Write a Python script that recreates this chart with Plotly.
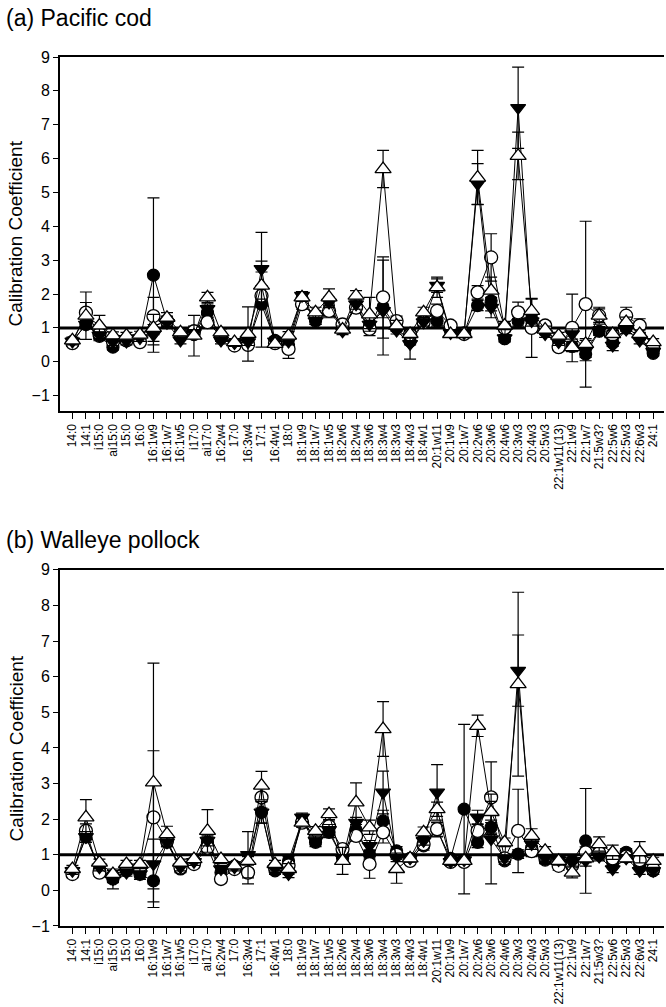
import plotly.graph_objects as go

categories = ["14:0","14:1","i15:0","ai15:0","15:0","16:0","16:1w9","16:1w7","16:1w5","i17:0",
              "ai17:0","16:2w4","17:0","16:3w4","17:1","16:4w1","18:0","18:1w9","18:1w7","18:1w5",
              "18:2w6","18:2w4","18:3w6","18:3w4","18:3w3","18:4w3","18:4w1","20:1w11","20:1w9","20:1w7",
              "20:2w6","20:3w6","20:4w6","20:3w3","20:4w3","20:5w3","22:1w11(13)","22:1w9","22:1w7","21:5w3?",
              "22:5w6","22:5w3","22:6w3","24:1"]

# Panel (a) Pacific cod
cod_filled_circle = [0.6,1.1,0.75,0.43,0.65,0.65,2.56,1.2,0.75,0.8,
                     1.46,0.7,0.5,0.55,1.7,0.63,0.5,1.85,1.2,1.5,
                     1.0,1.6,1.05,1.6,1.0,0.6,1.2,1.2,0.9,0.85,
                     1.66,1.8,0.68,1.2,1.25,0.9,0.6,0.45,0.23,0.9,
                     0.55,1.0,0.75,0.25]
cod_open_circle = [0.55,1.45,0.82,0.6,0.63,0.58,1.35,1.2,0.82,0.9,
                   1.17,0.75,0.48,0.5,1.95,0.55,0.38,1.7,1.35,1.5,
                   1.1,1.6,0.97,1.9,1.2,0.8,1.17,1.5,1.07,0.82,
                   2.05,3.08,1.0,1.46,1.0,1.07,0.43,1.0,1.7,1.36,
                   0.8,1.36,1.07,0.4]
cod_filled_tri = [0.6,1.1,0.78,0.58,0.6,0.7,0.8,1.15,0.63,0.85,
                  1.56,0.63,0.55,0.58,2.74,0.6,0.6,1.95,1.2,1.75,
                  0.9,1.7,1.1,1.5,0.92,0.53,1.17,2.25,0.85,0.85,
                  5.25,1.6,0.7,7.5,1.2,0.82,0.58,0.82,0.33,0.92,
                  0.48,0.95,0.63,0.3]
cod_open_tri = [0.63,1.36,1.07,0.78,0.77,0.8,1.0,1.3,0.87,0.77,
                1.9,0.87,0.58,0.82,2.25,0.53,0.77,1.9,1.46,1.9,
                0.95,1.95,1.4,5.69,1.07,0.82,1.46,2.2,0.82,0.82,
                5.44,2.1,1.07,6.08,1.5,0.95,0.77,0.43,0.53,1.36,
                0.82,1.17,0.82,0.58]

cod_err_filled_circle = [0.1,0.12,0.1,0.08,0.1,0.1,2.28,0.12,0.1,0.1,
                         0.15,0.1,0.08,0.1,1.27,0.1,0.1,0.12,0.1,0.15,
                         0.1,0.15,0.12,1.4,0.1,0.1,0.12,0.15,0.1,0.1,
                         0.15,0.3,0.1,0.15,0.12,0.1,0.1,0.15,0.1,0.12,
                         0.1,0.1,0.1,0.08]
cod_err_open_circle = [0.1,0.3,0.2,0.1,0.1,0.1,0.55,0.15,0.1,0.15,
                       0.15,0.1,0.1,0.1,0.3,0.1,0.28,0.15,0.15,0.2,
                       0.1,0.15,0.2,1.2,0.15,0.12,0.15,0.2,0.1,0.1,
                       0.2,0.7,0.12,0.3,0.87,0.12,0.1,1.0,2.45,0.25,
                       0.12,0.25,0.2,0.1]
cod_err_filled_tri = [0.1,0.12,0.1,0.1,0.1,0.1,0.3,0.12,0.1,0.1,
                      0.15,0.1,0.1,0.1,1.08,0.1,0.1,0.12,0.1,0.15,
                      0.1,0.15,0.12,0.2,0.1,0.45,0.12,0.2,0.1,0.1,
                      0.6,0.3,0.1,1.2,0.15,0.1,0.1,0.15,0.3,0.12,
                      0.15,0.12,0.1,0.1]
cod_err_open_tri = [0.1,0.7,0.3,0.1,0.1,0.1,0.4,0.15,0.1,0.6,
                    0.15,0.1,0.1,0.8,0.4,0.1,0.12,0.12,0.15,0.25,
                    0.1,0.15,0.5,0.55,0.15,0.12,0.15,0.3,0.1,0.1,
                    0.8,0.4,0.12,0.7,0.35,0.1,0.1,0.12,0.15,0.2,
                    0.1,0.15,0.12,0.1]

# Panel (b) Walleye pollock
pol_filled_circle = [0.5,1.5,0.6,0.32,0.55,0.45,0.27,1.35,0.6,0.75,
                     1.35,0.5,0.69,0.5,2.19,0.55,0.83,1.95,1.35,1.63,
                     0.9,1.7,1.0,1.95,1.11,0.9,1.25,1.7,0.9,2.28,
                     1.35,1.77,0.83,1.02,1.2,0.85,0.8,0.83,1.39,1.0,
                     0.8,1.07,0.7,0.55]
pol_open_circle = [0.46,1.67,0.5,0.4,0.6,0.6,2.05,1.4,0.64,0.74,
                   1.2,0.32,0.6,0.5,2.61,0.64,0.7,1.9,1.5,1.8,
                   1.16,1.53,0.74,1.63,1.0,0.83,1.3,1.72,0.8,0.8,
                   1.67,2.61,0.9,1.67,1.1,0.95,0.69,0.7,1.07,1.05,
                   0.9,0.95,0.85,0.6]
pol_filled_tri = [0.55,1.5,0.65,0.32,0.5,0.46,0.74,1.35,0.65,0.8,
                  1.4,0.6,0.65,1.0,2.19,0.6,0.46,2.05,1.4,1.7,
                  0.9,1.9,1.25,2.75,0.93,0.9,1.39,2.75,0.8,0.85,
                  2.05,1.44,0.9,6.17,1.3,0.9,0.85,0.78,0.83,0.95,
                  0.6,0.9,0.55,0.55]
pol_open_tri = [0.6,2.05,0.78,0.46,0.74,0.74,3.03,1.58,0.78,0.88,
                1.67,0.88,0.7,0.83,2.94,0.74,0.6,1.9,1.67,2.14,
                0.83,2.47,1.77,4.53,0.6,0.9,1.63,2.28,0.83,0.83,
                4.62,2.2,1.35,5.79,1.53,1.11,0.83,0.5,0.9,1.3,
                1.07,0.9,1.07,0.83]

pol_err_filled_circle = [0.1,0.15,0.1,0.28,0.1,0.1,0.75,0.12,0.1,0.1,
                         0.15,0.1,0.1,0.1,0.3,0.1,0.12,0.12,0.12,0.15,
                         0.1,0.15,0.12,0.3,0.12,0.1,0.12,0.2,0.1,2.38,
                         0.15,0.2,0.1,0.12,0.12,0.1,0.1,0.1,1.47,0.12,
                         0.1,0.1,0.1,0.1]
pol_err_open_circle = [0.1,0.2,0.1,0.1,0.1,0.1,1.87,0.12,0.1,0.1,
                       0.2,0.1,0.1,0.32,0.3,0.1,0.1,0.12,0.12,0.15,
                       0.1,0.15,0.4,0.3,0.12,0.1,0.12,0.2,0.1,0.1,
                       0.2,1.0,0.1,1.17,0.15,0.1,0.12,0.1,0.15,0.12,
                       0.1,0.1,0.2,0.1]
pol_err_filled_tri = [0.1,0.15,0.1,0.1,0.1,0.15,0.7,0.12,0.1,0.1,
                      0.15,0.1,0.1,0.65,0.3,0.1,0.1,0.12,0.12,0.15,
                      0.1,0.15,0.15,0.6,0.12,0.1,0.12,0.78,0.1,0.1,
                      0.2,1.26,0.1,1.0,0.15,0.1,0.1,0.1,0.15,0.12,
                      0.1,0.1,0.1,0.1]
pol_err_open_tri = [0.1,0.5,0.1,0.1,0.1,0.1,3.35,0.22,0.1,0.1,
                    0.6,0.12,0.1,0.12,0.4,0.1,0.15,0.12,0.12,0.15,
                    0.38,0.55,0.2,0.77,0.4,0.1,0.15,0.2,0.1,0.1,
                    0.3,0.3,0.12,2.58,0.2,0.12,0.12,0.15,0.12,0.2,
                    0.2,0.1,0.3,0.1]

FONT = "Arial, Liberation Sans, sans-serif"

styles = [
    ("filled circle", dict(symbol="circle", size=12, color="black", line=dict(color="black", width=1.2))),
    ("open circle", dict(symbol="circle", size=13, color="white", line=dict(color="black", width=1.3))),
    ("filled triangle", dict(symbol="triangle-down", size=13, color="black", line=dict(color="black", width=1.2))),
    ("open triangle", dict(symbol="triangle-up", size=14, color="white", line=dict(color="black", width=1.3))),
]

fig = go.Figure()

panels = [
    ("x", "y", [cod_filled_circle, cod_open_circle, cod_filled_tri, cod_open_tri],
     [cod_err_filled_circle, cod_err_open_circle, cod_err_filled_tri, cod_err_open_tri]),
    ("x2", "y2", [pol_filled_circle, pol_open_circle, pol_filled_tri, pol_open_tri],
     [pol_err_filled_circle, pol_err_open_circle, pol_err_filled_tri, pol_err_open_tri]),
]

for xa, ya, series, errs in panels:
    for (name, mk), vals, er in zip(styles, series, errs):
        fig.add_trace(go.Scatter(
            x=categories, y=vals, xaxis=xa, yaxis=ya, name=name,
            mode="lines+markers",
            line=dict(color="black", width=1),
            marker=mk,
            error_y=dict(type="data", array=er, visible=True, color="black", thickness=1.2, width=6),
            showlegend=False, cliponaxis=False,
        ))

# layout geometry
W, H = 666, 1007
ml, mt, mb = 60, 57, 79
ph = H - mt - mb
a_bot = (928 - 412) / ph
b_top = (928 - 571) / ph

xcommon = dict(type="category", range=[-0.92, 43.8], showline=True, linecolor="black", linewidth=2,
               mirror=True, ticks="outside", ticklen=6, tickwidth=1.2, tickcolor="black",
               tickmode="array", tickvals=categories, ticktext=categories,
               tickangle=-90, tickfont=dict(family=FONT, size=12, color="black"),
               showgrid=False, zeroline=False)
ycommon = dict(showline=True, linecolor="black", linewidth=2, ticks="outside", ticklen=5,
               tickwidth=1.2, tickcolor="black", dtick=1, tick0=0,
               tickfont=dict(family=FONT, size=16, color="black"), showgrid=False, zeroline=False)

fig.update_layout(
    width=W, height=H,
    margin=dict(l=ml, r=2, t=mt, b=mb),
    paper_bgcolor="white", plot_bgcolor="white",
    xaxis=dict(**xcommon, anchor="y", showticklabels=True),
    yaxis=dict(**ycommon, domain=[a_bot, 1.0], range=[-1.46, 9], anchor="x"),
    xaxis2=dict(**xcommon, anchor="y2"),
    yaxis2=dict(**ycommon, domain=[0, b_top], range=[-1.0, 9], anchor="x2"),
    shapes=[
        dict(type="line", xref="x domain", yref="y", x0=0, x1=1, y0=1, y1=1,
             line=dict(color="black", width=3), layer="below"),
        dict(type="line", xref="x2 domain", yref="y2", x0=0, x1=1, y0=1, y1=1,
             line=dict(color="black", width=3), layer="below"),
    ],
    annotations=[
        dict(text="(a) Pacific cod", xref="paper", yref="paper", x=(4 - ml) / (W - ml - 2),
             y=(928 - 18) / ph, xanchor="left", yanchor="middle", showarrow=False,
             font=dict(family=FONT, size=23, color="black")),
        dict(text="(b) Walleye pollock", xref="paper", yref="paper", x=(4 - ml) / (W - ml - 2),
             y=(928 - 541) / ph, xanchor="left", yanchor="middle", showarrow=False,
             font=dict(family=FONT, size=23, color="black")),
        dict(text="Calibration Coefficient", xref="paper", yref="paper", x=(16 - ml) / (W - ml - 2),
             y=(928 - 234) / ph, xanchor="center", yanchor="middle", textangle=-90, showarrow=False,
             font=dict(family=FONT, size=19, color="black")),
        dict(text="Calibration Coefficient", xref="paper", yref="paper", x=(16 - ml) / (W - ml - 2),
             y=(928 - 750) / ph, xanchor="center", yanchor="middle", textangle=-90, showarrow=False,
             font=dict(family=FONT, size=19, color="black")),
    ],
)

fig.write_html("out.html")
